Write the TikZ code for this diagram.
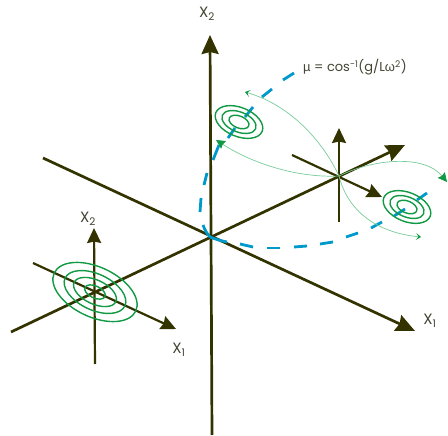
\documentclass[tikz,border=0pt]{standalone}
\usepackage{fontspec}
\setmainfont{Poppins}
\newfontfamily\greekfont{Liberation Sans}
\usetikzlibrary{arrows.meta}
\definecolor{axiscol}{HTML}{333300}
\definecolor{ringcol}{HTML}{119944}
\definecolor{flowcol}{HTML}{77CC99}
\definecolor{pathcol}{HTML}{0099CC}
\definecolor{labelcol}{HTML}{444433}
\tikzset{
  x=1pt,y=-1pt,
  bigaxis/.style={draw=axiscol,line width=2.7pt,-{Stealth[length=19pt,width=17pt,inset=2pt]}},
  smallaxis/.style={draw=axiscol,line width=2.2pt,-{Stealth[length=15pt,width=14pt,inset=1.5pt]}},
  ring/.style={draw=ringcol,line width=1.4pt},
  flow/.style={draw=flowcol,line width=0.7pt},
  flowtip/.style={flow,-{Stealth[length=9pt,width=9pt,inset=1pt,color=ringcol]}},
  flowhook/.style={flow,-{Stealth[length=5pt,width=7pt,inset=2.5pt,color=ringcol]}},
  bluedash/.style={draw=pathcol,line width=2.8pt},
  lab/.style={text=labelcol,font=\fontsize{13}{14}\selectfont,inner sep=0pt},
  xlab/.style={text=labelcol,font=\fontsize{15}{16}\selectfont,inner sep=0pt}
}
\begin{document}
\begin{tikzpicture}
\useasboundingbox (0,0) rectangle (448,436);
\coordinate (O) at (210,237);
\coordinate (R) at (339,176);
\coordinate (L) at (94,292);
% main axes
\coordinate (mvB) at (212,435); \coordinate (mvT) at (210,35);
\coordinate (mdA) at (43,158);  \coordinate (mdB) at (415,331);
\coordinate (meA) at (11,332);  \coordinate (meB) at (405,145);
\draw[bigaxis] (mvB) -- (mvT);
\draw[bigaxis] (mdA) -- (mdB);
\draw[bigaxis] (meA) -- (meB);
% right small axes
\coordinate (rvB) at (339,222); \coordinate (rvT) at (339,128);
\coordinate (rdA) at (292,155); \coordinate (rdB) at (382,197);
\draw[smallaxis] (rvB) -- (rvT);
\draw[smallaxis] (rdA) -- (rdB);
% left small axes
\coordinate (lvB) at (95,364); \coordinate (lvT) at (94,228);
\coordinate (ldA) at (33,263); \coordinate (ldB) at (176,329);
\draw[smallaxis] (lvB) -- (lvT);
\draw[smallaxis] (ldA) -- (ldB);
% rings left
\foreach \a/\b in {45/25,33/18,23/12,11/6}
  \draw[ring,rotate around={-25:(95,292)}] (95,292) ellipse [x radius=\a,y radius=\b];
% blue dashes
\draw[bluedash] (294,73) -- (283,80);
\draw[bluedash] (272,89) -- (262,97);
\draw[bluedash] (253,107) -- (245,117);
\draw[bluedash] (235,128) -- (228,138);
\draw[bluedash] (219,145) -- (213,160);
\draw[bluedash] (207,173) -- (204,185);
\draw[bluedash] (201,198) -- (200,212);
\draw[bluedash] (203,225) to[bend right=10] (O);
\draw[bluedash] (O) to[bend right=5] (227,242);
\draw[bluedash] (240,244) -- (253,247);
\draw[bluedash] (267,248) -- (280,248);
\draw[bluedash] (294,247) -- (307,246);
\draw[bluedash] (320,244) -- (333,242);
\draw[bluedash] (346,237) -- (358,233);
\draw[bluedash] (371,228) -- (382,222);
\draw[bluedash] (394,216) -- (405,209);
\draw[bluedash] (417,200) -- (427,193);
% rings top and right
\foreach \a/\b in {25/14.5,18/10,10.5/6}{
  \draw[ring,rotate around={-22:(239,122)}] (239,122) ellipse [x radius=\a,y radius=\b];
  \draw[ring,rotate around={-22:(407,207)}] (407,207) ellipse [x radius=\a,y radius=\b];
}
% flow curves
\coordinate (fTL) at (245,92);
\coordinate (fBR) at (421,237);
\coordinate (fL) at (216,140);
\coordinate (fRt) at (447,182);
\draw[flowhook] (R) .. controls (322,140) and (290,105) .. (fTL);
\draw[flowhook] (R) .. controls (346,205) and (370,232) .. (fBR);
\draw[flowtip] (R) .. controls (300,178) and (255,165) .. (fL);
\draw[flowtip] (R) .. controls (375,158) and (425,155) .. (fRt);
% labels
\node[lab,anchor=base west] (lm) at (303,72) {{\greekfont µ} = cos\textsuperscript{-1}(g/L{\greekfont ω}\textsuperscript{2})};
\node[xlab] (lt) at (207,14) {X\textsubscript{2}};
\node[xlab] (ll) at (88,219) {X\textsubscript{2}};
\node[xlab] (lb) at (179,350) {X\textsubscript{1}};
\node[xlab] (lr) at (430,321) {X\textsubscript{1}};
\end{tikzpicture}
\end{document}
